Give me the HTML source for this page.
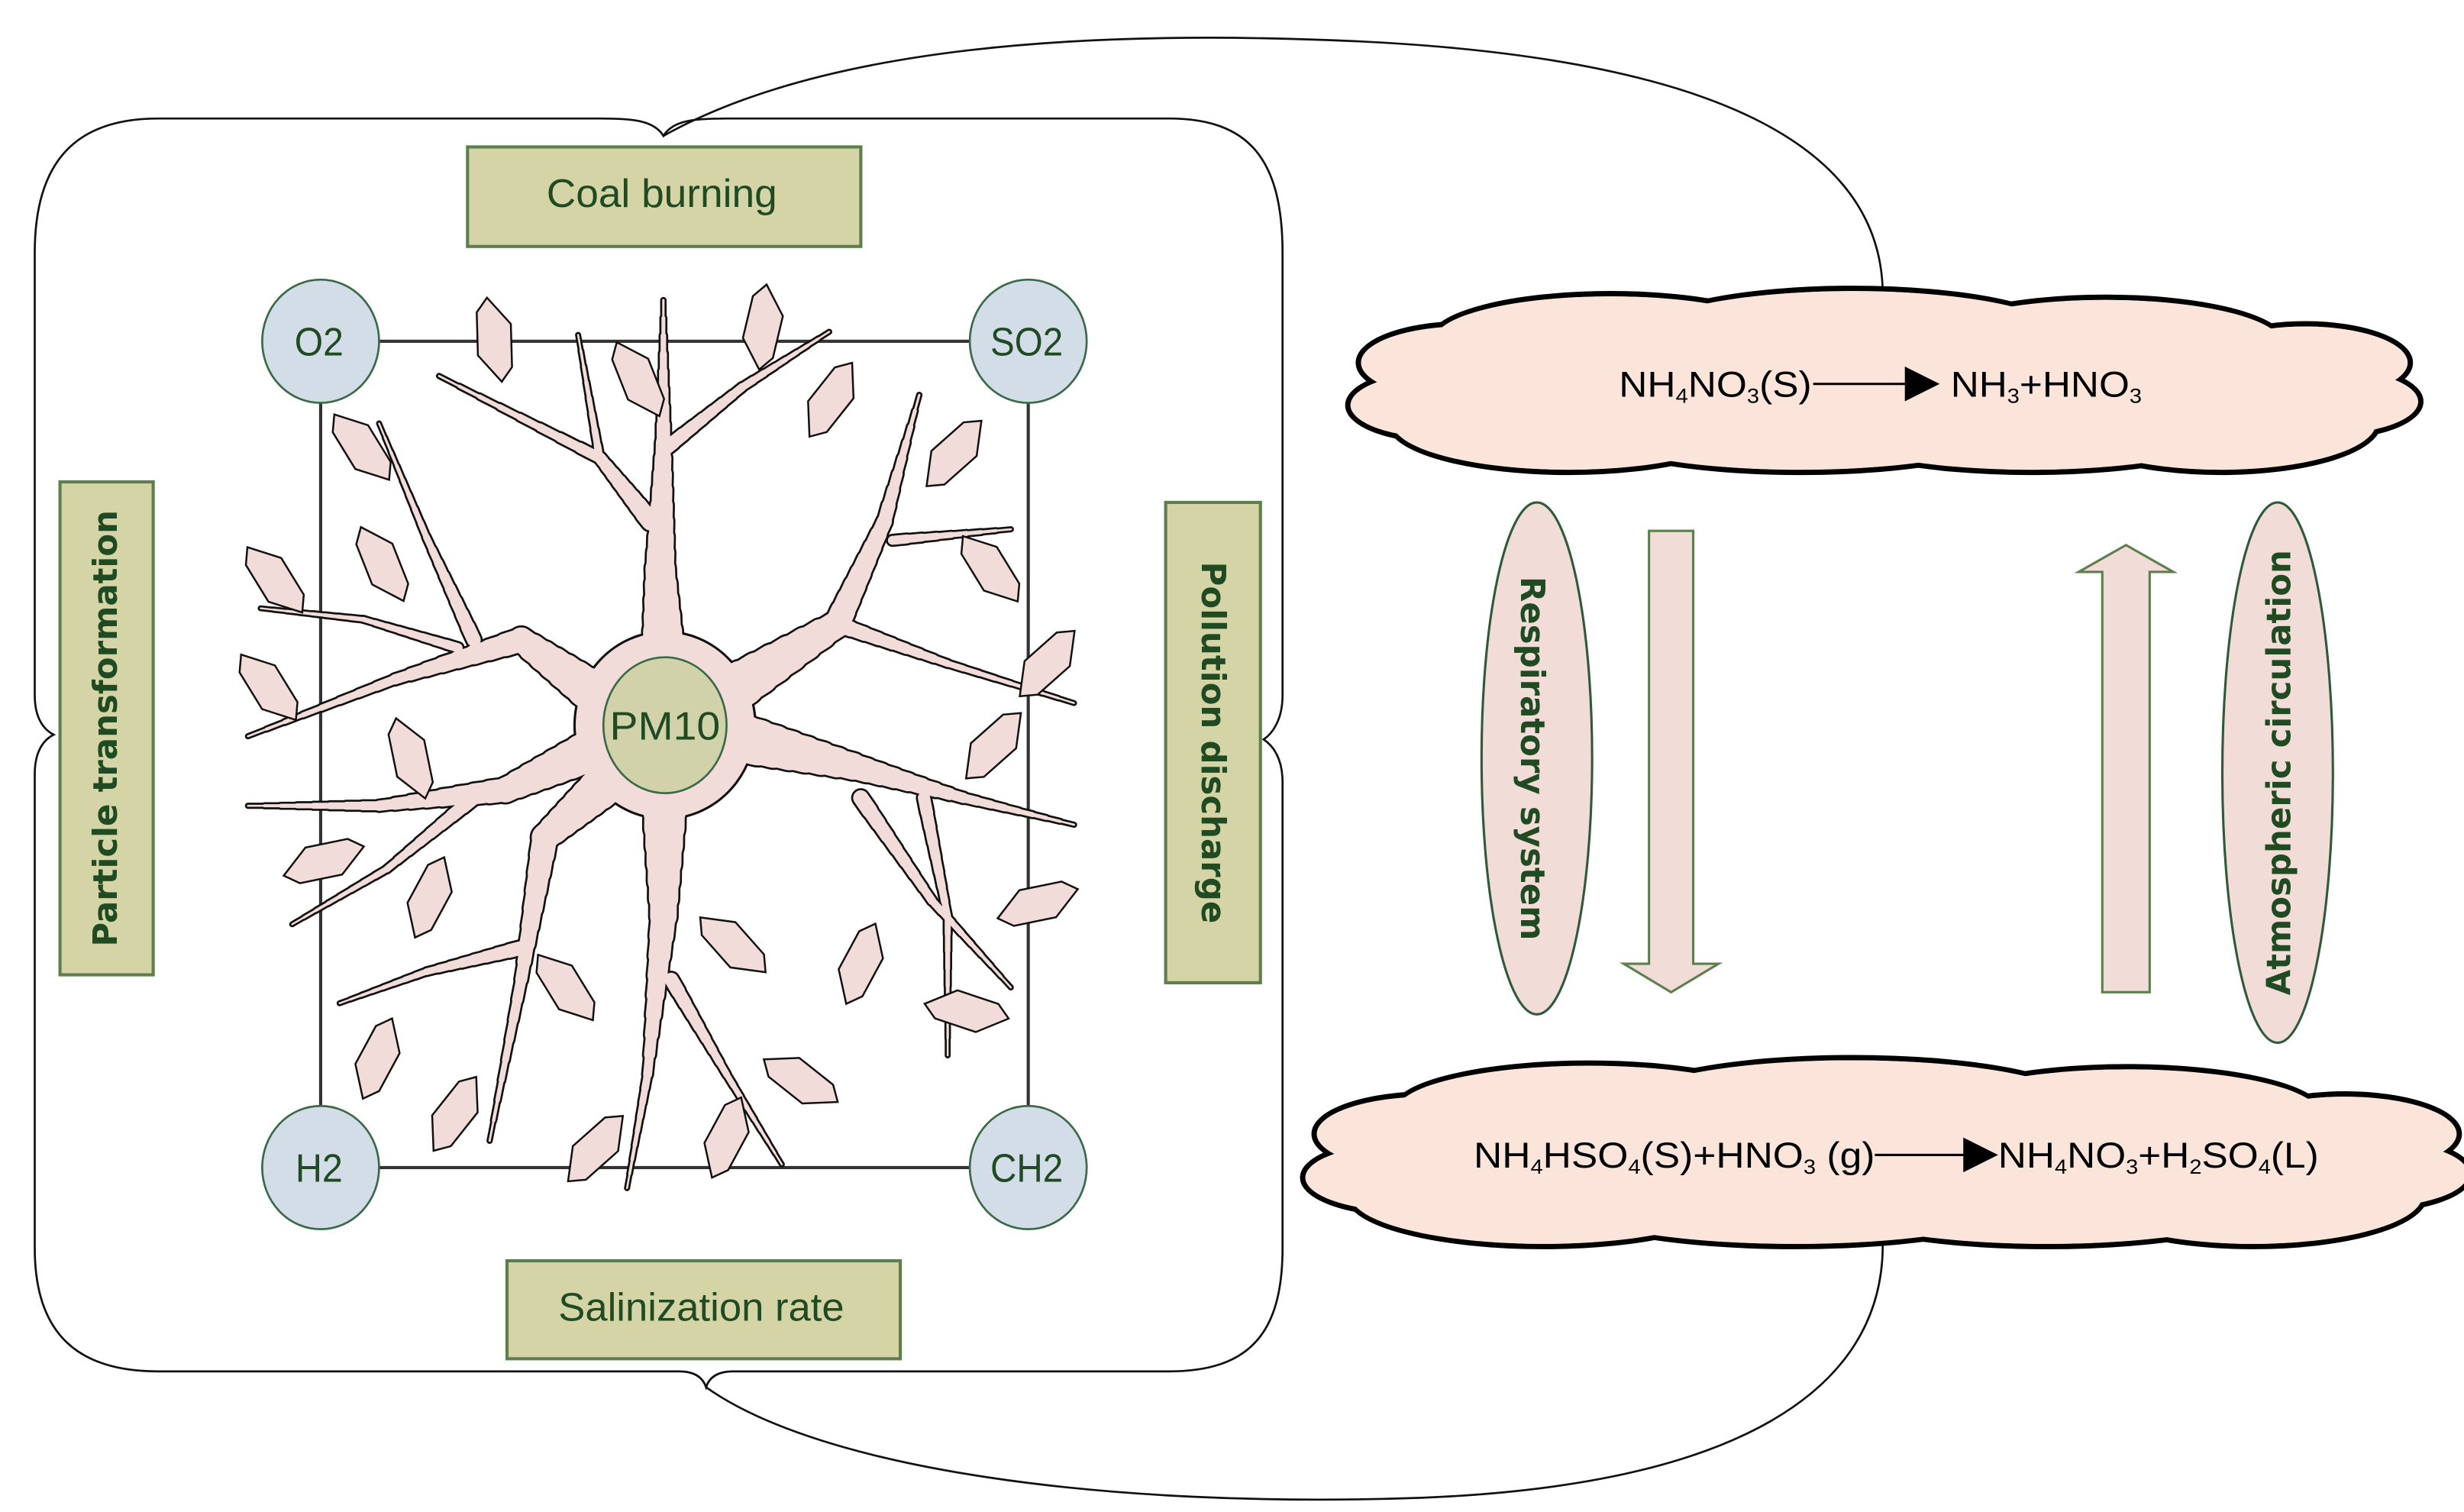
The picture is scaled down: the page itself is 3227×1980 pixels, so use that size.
<!DOCTYPE html>
<html><head><meta charset="utf-8">
<style>
html,body{margin:0;padding:0;background:#fff;}
svg{display:block;}
.lbl{font-family:"Liberation Sans",sans-serif;fill:#1f4a22;}
.rot{font-family:"DejaVu Sans","Liberation Sans",sans-serif;font-weight:bold;fill:#1f4a22;}
.eq{font-family:"Liberation Sans",sans-serif;fill:#000;}
</style></head>
<body>
<svg id="s" width="3227" height="1980" viewBox="0 0 1560 957" preserveAspectRatio="none" xmlns="http://www.w3.org/2000/svg">
<g fill="none" stroke="#111" stroke-width="1.3">
<path d="M420,86 C414,76 400,75 380,75 L100,75 C50,75 22,100 22,160 L22,440 C22,455 28,462 34,465 C28,468 22,475 22,490 L22,790 C22,845 50,868 100,868 L430,868 C440,868 445,872 447,878 C449,872 454,868 464,868 L740,868 C790,868 812,845 812,790 L812,495 C812,480 806,472 800,468 C806,464 812,455 812,440 L812,160 C812,100 790,75 740,75 L460,75 C440,75 426,76 420,86 Z"/>
<path d="M420,86 C520,30 680,20 830,25 C1000,30 1190,60 1192,185"/>
<path d="M447,878 C520,930 700,955 900,948 C1100,940 1192,880 1192,788"/>
<rect x="203" y="216" width="448" height="523" stroke="#333" stroke-width="2"/>
</g>
<g id="neuron"></g>
<g id="leaves" fill="#f2dcd9" stroke="#111" stroke-width="1.2"></g>
<g fill="#d3dde8" stroke="#3b6a48" stroke-width="1.3">
<ellipse cx="203" cy="216" rx="37" ry="39"/>
<ellipse cx="651" cy="216" rx="37" ry="39"/>
<ellipse cx="203" cy="739" rx="37" ry="39"/>
<ellipse cx="651" cy="739" rx="37" ry="39"/>
</g>
<ellipse cx="421" cy="459" rx="39" ry="43" fill="#d1d2a9" stroke="#3b6a48" stroke-width="1.3"/>
<g class="lbl" font-size="25" text-anchor="middle">
<text x="202" y="225" textLength="31" lengthAdjust="spacingAndGlyphs">O2</text>
<text x="650" y="225" textLength="46" lengthAdjust="spacingAndGlyphs">SO2</text>
<text x="202" y="748" textLength="30" lengthAdjust="spacingAndGlyphs">H2</text>
<text x="650" y="748" textLength="46" lengthAdjust="spacingAndGlyphs">CH2</text>
<text x="421" y="468" textLength="70" lengthAdjust="spacingAndGlyphs">PM10</text>
</g>
<g fill="#d4d4a6" stroke="#5d7f4e" stroke-width="2">
<rect x="296" y="93" width="249" height="63"/>
<rect x="321" y="798" width="249" height="62"/>
<rect x="38" y="305" width="59" height="312"/>
<rect x="738" y="318" width="60" height="304"/>
</g>
<g class="lbl" font-size="25" text-anchor="middle">
<text x="419" y="131" textLength="146" lengthAdjust="spacingAndGlyphs">Coal burning</text>
<text x="444" y="836" textLength="181" lengthAdjust="spacingAndGlyphs">Salinization rate</text>
</g>
<text class="rot" font-size="21" text-anchor="middle" transform="translate(74,461) rotate(-90)">Particle transformation</text>
<text class="rot" font-size="21" text-anchor="middle" transform="translate(761,470) rotate(90)">Pollution discharge</text>
<g id="clouds"></g>
<g class="eq" font-size="23">
<text x="1025" y="251" textLength="122" lengthAdjust="spacingAndGlyphs">NH<tspan font-size="13" dy="4">4</tspan><tspan dy="-4">NO</tspan><tspan font-size="13" dy="4">3</tspan><tspan dy="-4">(S)</tspan></text>
<line x1="1148" y1="243" x2="1210" y2="243" stroke="#000" stroke-width="1.5"/>
<polygon points="1206,232 1228,243 1206,254" fill="#000"/>
<text x="1235" y="251" textLength="121" lengthAdjust="spacingAndGlyphs">NH<tspan font-size="13" dy="4">3</tspan><tspan dy="-4">+HNO</tspan><tspan font-size="13" dy="4">3</tspan></text>
<text x="933" y="739" textLength="254" lengthAdjust="spacingAndGlyphs">NH<tspan font-size="13" dy="4">4</tspan><tspan dy="-4">HSO</tspan><tspan font-size="13" dy="4">4</tspan><tspan dy="-4">(S)+HNO</tspan><tspan font-size="13" dy="4">3</tspan><tspan dy="-4"> (g)</tspan></text>
<line x1="1187" y1="731" x2="1248" y2="731" stroke="#000" stroke-width="1.5"/>
<polygon points="1243,720 1265,731 1243,742" fill="#000"/>
<text x="1265" y="739" textLength="203" lengthAdjust="spacingAndGlyphs">NH<tspan font-size="13" dy="4">4</tspan><tspan dy="-4">NO</tspan><tspan font-size="13" dy="4">3</tspan><tspan dy="-4">+H</tspan><tspan font-size="13" dy="4">2</tspan><tspan dy="-4">SO</tspan><tspan font-size="13" dy="4">4</tspan><tspan dy="-4">(L)</tspan></text>
</g>
<g fill="#f2dcd8" stroke="#5d7f4e" stroke-width="1.5">
<polygon points="1044,336 1072,336 1072,610 1088,610 1058,628 1028,610 1044,610"/>
<polygon points="1331,628 1361,628 1361,362 1376,362 1346,345 1316,362 1331,362"/>
<ellipse cx="973" cy="480" rx="35" ry="162" stroke="#2f5a3a"/>
<ellipse cx="1442" cy="489" rx="35" ry="171" stroke="#2f5a3a"/>
</g>
<text class="rot" font-size="21" text-anchor="middle" transform="translate(963,480) rotate(90)">Respiratory system</text>
<text class="rot" font-size="21" text-anchor="middle" transform="translate(1450,489) rotate(-90)">Atmospheric circulation</text>
</svg>
<script>
var NS="http://www.w3.org/2000/svg";
function el(p,t,a){var e=document.createElementNS(NS,t);for(var k in a)e.setAttribute(k,a[k]);p.appendChild(e);return e;}
var B=[
[[421,440,30],[418,360,18],[420,280,9],[420,190,1]],
[[412,330,12],[380,290,7],[278,238,1]],
[[380,292,5],[366,212,1]],
[[420,285,9],[470,245,5],[525,210,1]],
[[450,445,32],[530,395,16],[560,330,9],[582,250,1]],
[[565,342,6],[640,335,1]],
[[530,395,10],[600,420,4],[680,445,1]],
[[460,465,32],[540,485,16],[610,505,6],[680,522,1]],
[[545,505,10],[590,570,5],[640,625,1]],
[[585,505,8],[600,580,4],[600,668,1]],
[[421,490,30],[420,580,16],[410,680,5],[397,752,1]],
[[425,620,9],[460,680,4],[495,737,1]],
[[390,490,28],[345,530,16],[330,620,7],[310,722,1]],
[[330,600,9],[270,615,4],[215,635,1]],
[[385,470,28],[320,500,15],[240,510,6],[157,510,1]],
[[300,505,9],[245,550,4],[185,585,1]],
[[385,445,28],[330,405,15],[250,430,6],[157,466,1]],
[[300,405,9],[270,340,4],[240,268,1]],
[[290,410,6],[230,392,3],[165,385,1]]];
var N=document.getElementById("neuron");
function draw(extra,col){B.forEach(function(br){for(var i=0;i<br.length-1;i++){var a=br[i],b=br[i+1];
var S=8;for(var j=0;j<S;j++){var t0=j/S,t1=(j+1)/S;
var w=a[2]+(b[2]-a[2])*(t0+t1)/2;
el(N,"line",{x1:a[0]+(b[0]-a[0])*t0,y1:a[1]+(b[1]-a[1])*t0,x2:a[0]+(b[0]-a[0])*t1,y2:a[1]+(b[1]-a[1])*t1,stroke:col,"stroke-width":Math.max(w,0.8)+extra,"stroke-linecap":"round"});}}});}
el(N,"ellipse",{cx:421,cy:459,rx:58,ry:60,fill:"#111"});
draw(2.6,"#111");
el(N,"ellipse",{cx:421,cy:459,rx:56.5,ry:58.5,fill:"#f2dcd9"});
draw(0,"#f2dcd9");
var Lv=[[313,215,-10],[483,207,5],[404,240,-30],[526,253,30],[229,283,-40],[604,287,40],[627,360,-40],[242,357,-30],[174,367,-40],[170,435,-40],[663,420,40],[260,480,-20],[629,472,40],[205,545,70],[272,568,20],[657,572,70],[464,598,-50],[358,625,-40],[545,610,20],[612,640,-80],[239,670,20],[507,684,-60],[288,705,30],[377,727,40],[460,720,20]];
var G=document.getElementById("leaves");
Lv.forEach(function(l){el(G,"polygon",{points:"0,-27 12,-8 8,19 0,27 -12,8 -8,-19",transform:"translate("+l[0]+","+l[1]+") rotate("+l[2]+")"});});
function cloud(x0,x1,y0,y1){var g=document.getElementById("clouds");var w=x1-x0,h=y1-y0;
var E=[[0.24,0.25,0.17,0.26],[0.47,0.22,0.2,0.26],[0.71,0.27,0.17,0.26],[0.1,0.38,0.1,0.22],[0.9,0.38,0.1,0.22],
[0.08,0.62,0.09,0.2],[0.92,0.6,0.09,0.2],[0.2,0.72,0.17,0.28],[0.42,0.76,0.2,0.24],[0.64,0.74,0.2,0.26],[0.82,0.72,0.15,0.28]];
E.forEach(function(e){el(g,"ellipse",{cx:x0+e[0]*w,cy:y0+e[1]*h,rx:e[2]*w,ry:e[3]*h,fill:"#fbe5da",stroke:"#000","stroke-width":3.4});});
E.forEach(function(e){el(g,"ellipse",{cx:x0+e[0]*w,cy:y0+e[1]*h,rx:e[2]*w-1.7,ry:e[3]*h-1.7,fill:"#fbe5da"});});
el(g,"rect",{x:x0+0.1*w,y:y0+0.3*h,width:0.8*w,height:0.4*h,fill:"#fbe5da"});}
cloud(860,1526,187,299);
cloud(832,1557,674,789);
</script>
</body></html>
